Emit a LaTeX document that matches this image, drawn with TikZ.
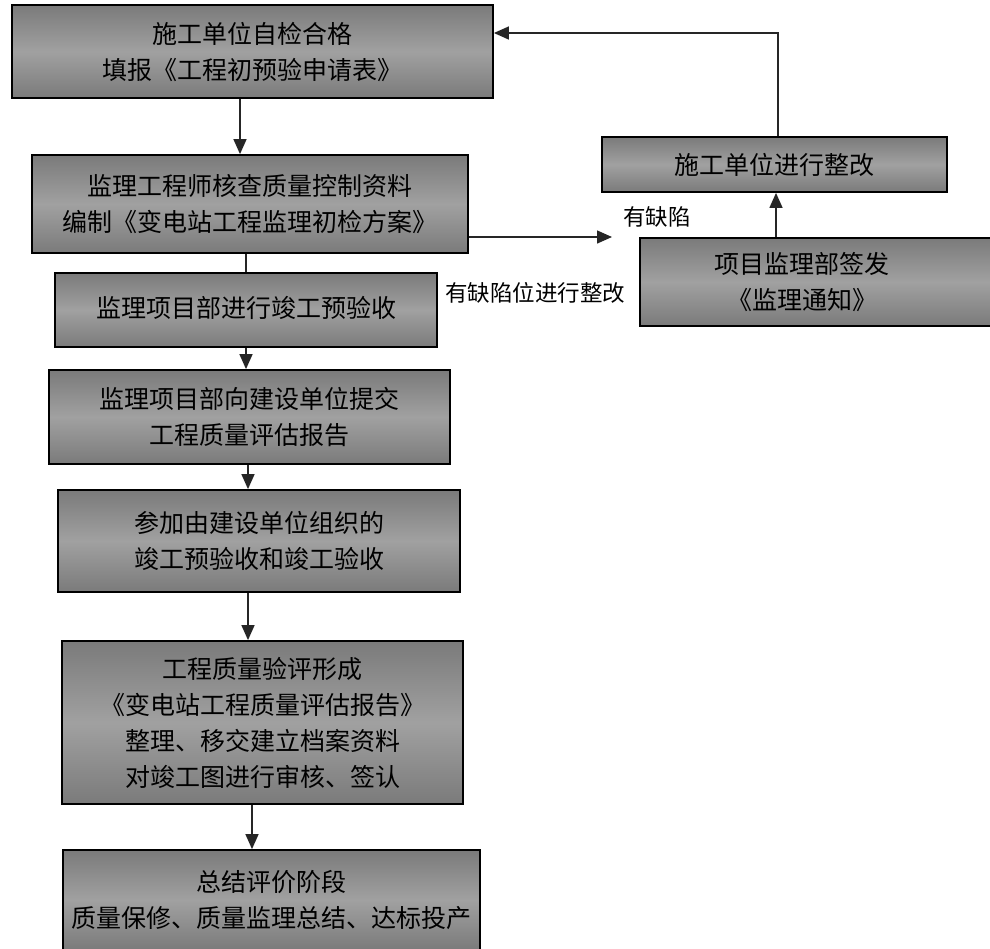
\documentclass[tikz,border=0pt]{standalone}
\usepackage{fontspec}
\newfontfamily\cjk{Noto Sans CJK SC}
\usetikzlibrary{arrows.meta}
\definecolor{bxdark}{gray}{0.48}
\definecolor{bxlight}{gray}{0.63}
\definecolor{lncol}{gray}{0.15}
\tikzset{
  box/.style={draw=black, line width=1.8pt, top color=bxdark, bottom color=bxdark, middle color=bxlight,
    inner sep=0pt, align=center, font=\cjk\fontsize{25}{36}\selectfont},
  arr/.style={draw=lncol, line width=1.4pt, -{Triangle[width=13pt,length=15pt]}},
  ln/.style={draw=lncol, line width=1.4pt},
  lbl/.style={inner sep=0pt, font=\cjk\fontsize{22.5}{28}\selectfont}
}
\begin{document}
\begin{tikzpicture}[x=1pt,y=-1pt]
\useasboundingbox[fill=white] (0,0) rectangle (990,948);
\node[box, minimum width=481pt, minimum height=93pt] (A) at (252.5,51.5) {施工单位自检合格\\填报《工程初预验申请表》};
\node[box, minimum width=436pt, minimum height=98pt] (B) at (250,204) {监理工程师核查质量控制资料\\编制《变电站工程监理初检方案》};
\node[box, minimum width=382pt, minimum height=74pt] (C) at (246,310) {\raisebox{6pt}{监理项目部进行竣工预验收}};
\node[box, minimum width=401pt, minimum height=94pt] (D) at (249.5,417) {监理项目部向建设单位提交\\工程质量评估报告};
\node[box, minimum width=402pt, minimum height=102pt] (E) at (259,541) {参加由建设单位组织的\\竣工预验收和竣工验收};
\node[box, minimum width=401pt, minimum height=163pt] (F) at (262.5,722.5) {工程质量验评形成\\《变电站工程质量评估报告》\\整理、移交建立档案资料\\对竣工图进行审核、签认};
\node[box, minimum width=417pt, minimum height=100pt] (G) at (271.5,900) {总结评价阶段\\质量保修、质量监理总结、达标投产};
\node[box, minimum width=345pt, minimum height=55pt] (H) at (774.5,164.5) {施工单位进行整改};
\node[box, minimum width=352pt, minimum height=88pt] (I) at (816,282) {\hspace*{-28pt}项目监理部签发\\\hspace*{-28pt}《监理通知》};
\node[lbl] (L1) at (657,217) {有缺陷};
\node[lbl] (L2) at (535,293) {有缺陷位进行整改};
\coordinate (bx) at (612,237);
\draw[arr] ([xshift=-12.5pt]A.south) -- ([xshift=-12.5pt]A.south |- B.north);
\draw[ln] (B.south -| C.north) -- (C.north);
\draw[arr] (C.south) -- (C.south |- D.north);
\draw[arr] ([xshift=-1.5pt]D.south) -- ([xshift=-1.5pt]D.south |- E.north);
\draw[arr] ([xshift=-11pt]E.south) -- ([xshift=-11pt]E.south |- F.north);
\draw[arr] ([xshift=-10.5pt]F.south) -- ([xshift=-10.5pt]F.south |- G.north);
\draw[arr] ([yshift=-33pt]B.east) -- (bx);
\draw[arr] ([xshift=-40pt]I.north) -- ([xshift=-40pt]I.north |- H.south);
\draw[arr] ([xshift=3.5pt]H.north) |- ([yshift=18.5pt]A.east);
\end{tikzpicture}
\end{document}
